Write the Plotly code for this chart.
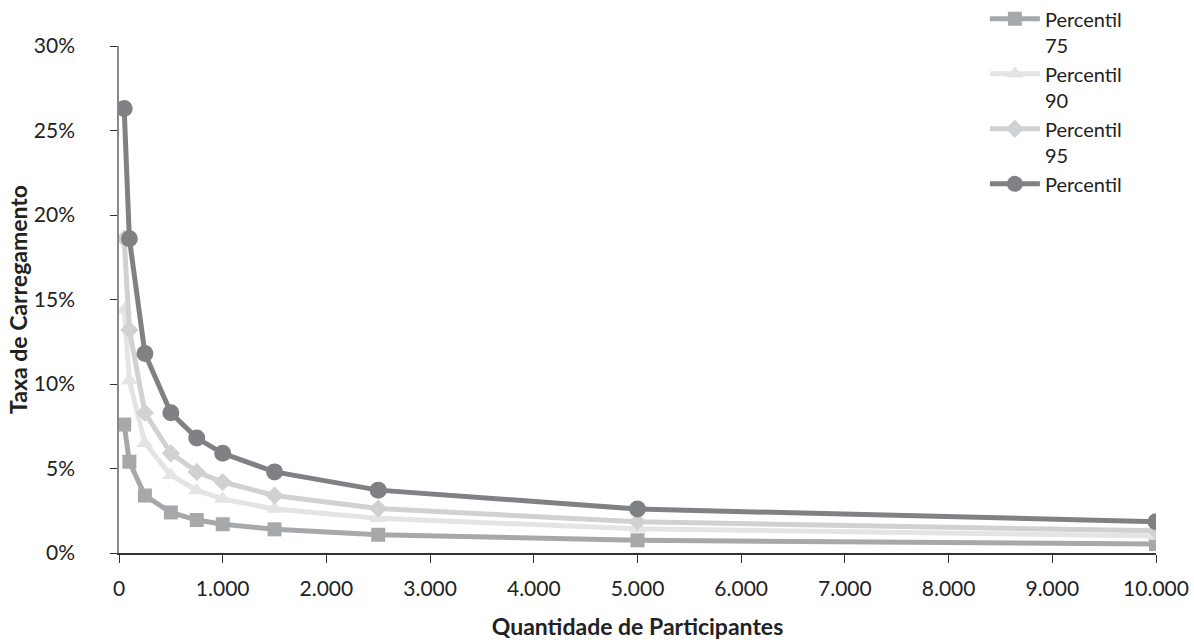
import plotly.graph_objects as go

# Number of participants (x) and loading rate (%) per percentile
participantes = [50, 100, 250, 500, 750, 1000, 1500, 2500, 5000, 10000]
p75 = [7.6, 5.4, 3.4, 2.4, 1.95, 1.7, 1.4, 1.08, 0.75, 0.53]
p90 = [14.4, 10.2, 6.5, 4.6, 3.7, 3.2, 2.6, 2.05, 1.43, 1.01]
p95 = [18.6, 13.2, 8.3, 5.9, 4.8, 4.2, 3.4, 2.63, 1.85, 1.31]
p99 = [26.3, 18.6, 11.8, 8.3, 6.8, 5.9, 4.8, 3.72, 2.6, 1.85]

nomes = ["Percentil<br>75", "Percentil<br>90", "Percentil<br>95", "Percentil"]
cores = ["#a7a8aa", "#e3e4e5", "#d0d1d3", "#808185"]
simbolos = ["square", "triangle-up", "diamond", "circle"]
tamanhos = [14, 15, 14, 17]

x_ticks = [0, 1000, 2000, 3000, 4000, 5000, 6000, 7000, 8000, 9000, 10000]
x_ticktext = ["0", "1.000", "2.000", "3.000", "4.000", "5.000", "6.000",
              "7.000", "8.000", "9.000", "10.000"]
y_ticks = [0, 5, 10, 15, 20, 25, 30]
y_ticktext = ["0%", "5%", "10%", "15%", "20%", "25%", "30%"]

fonte = "Lato, 'Open Sans', sans-serif"

fig = go.Figure()
for nome, serie, cor, simb, tam in zip(nomes, [p75, p90, p95, p99], cores, simbolos, tamanhos):
    fig.add_trace(go.Scatter(
        x=participantes, y=serie, name=nome, mode="lines+markers",
        line=dict(color=cor, width=5),
        marker=dict(symbol=simb, size=tam, color=cor),
    ))

fig.update_layout(
    width=1194, height=643,
    paper_bgcolor="white", plot_bgcolor="white",
    margin=dict(l=119, r=38, t=46, b=90, autoexpand=False),
    font=dict(family=fonte, size=21, color="#222222"),
    showlegend=True,
    legend=dict(
        x=0.835, y=1.092, xanchor="left", yanchor="top",
        font=dict(size=20, color="#222222"),
        itemwidth=50, valign="top", tracegroupgap=0,
        bgcolor="rgba(0,0,0,0)",
    ),
    xaxis=dict(
        range=[0, 10000], tickvals=x_ticks, ticktext=x_ticktext,
        showgrid=False, zeroline=False,
        showline=True, linecolor="#333333", linewidth=1.5,
        ticks="outside", ticklen=8, tickcolor="#333333",
        ticklabelstandoff=8,
        tickfont=dict(size=21, color="#222222"),
        title=dict(text="<b>Quantidade de Participantes</b>", standoff=20,
                   font=dict(size=23, color="#222222")),
    ),
    yaxis=dict(
        range=[0, 30], tickvals=y_ticks, ticktext=y_ticktext,
        showgrid=False, zeroline=False,
        showline=True, linecolor="#888888", linewidth=1.5,
        ticks="outside", ticklen=7, tickcolor="#333333",
        ticklabelstandoff=31,
        tickfont=dict(size=21, color="#222222"),
        title=dict(text="<b>Taxa de Carregamento</b>", standoff=0,
                   font=dict(size=23, color="#222222")),
    ),
)

fig.write_html("out.html")
